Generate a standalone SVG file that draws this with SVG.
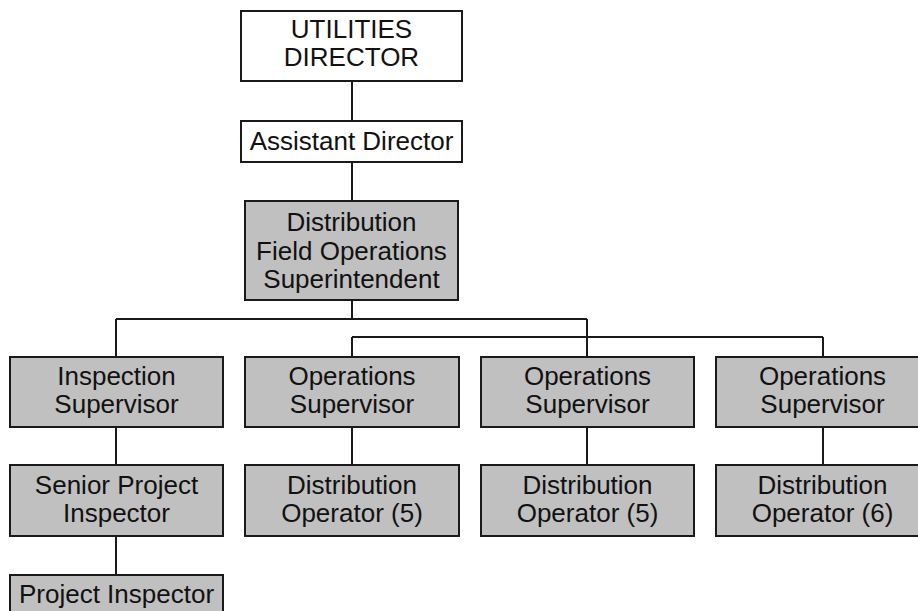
<svg xmlns="http://www.w3.org/2000/svg" width="918" height="611" viewBox="0 0 918 611">
<style>
.box{fill:#c0c0c0;stroke:#1a1a1a;stroke-width:2}
.wbox{fill:#ffffff;stroke:#1a1a1a;stroke-width:2}
.t{font-family:"Liberation Sans",Arial,sans-serif;font-size:26px;fill:#111;text-anchor:middle}
.c{stroke:#1a1a1a;stroke-width:2;fill:none}
</style>
<rect width="918" height="611" fill="#ffffff"/>
<g id="connectors">
<path class="c" d="M352 81V121M352 162V201M352 300V319M116 319H587M116 319V357M587 319V357M352 337H823M352 337V357M823 337V357M116 427V465M116 536V575M352 427V465M587 427V465M823 427V465"/>
</g>
<g id="utilities-director">
<rect class="wbox" x="241" y="11" width="221" height="70"/>
<text class="t" x="351.5" y="38">UTILITIES</text>
<text class="t" x="351.5" y="66">DIRECTOR</text>
</g>
<g id="assistant-director">
<rect class="wbox" x="241" y="121" width="221" height="41"/>
<text class="t" x="351.5" y="150">Assistant Director</text>
</g>
<g id="superintendent">
<rect class="box" x="245" y="201" width="213" height="99"/>
<text class="t" x="351.5" y="231">Distribution</text>
<text class="t" x="351.5" y="259.5">Field Operations</text>
<text class="t" x="351.5" y="288">Superintendent</text>
</g>
<g id="inspection-supervisor">
<rect class="box" x="10" y="357" width="213" height="70"/>
<text class="t" x="116.5" y="385">Inspection</text>
<text class="t" x="116.5" y="412.5">Supervisor</text>
</g>
<g id="ops-supervisor-1">
<rect class="box" x="245" y="357" width="214" height="70"/>
<text class="t" x="352" y="385">Operations</text>
<text class="t" x="352" y="412.5">Supervisor</text>
</g>
<g id="ops-supervisor-2">
<rect class="box" x="481" y="357" width="213" height="70"/>
<text class="t" x="587.5" y="385">Operations</text>
<text class="t" x="587.5" y="412.5">Supervisor</text>
</g>
<g id="ops-supervisor-3">
<rect class="box" x="716" y="357" width="213" height="70"/>
<text class="t" x="822.5" y="385">Operations</text>
<text class="t" x="822.5" y="412.5">Supervisor</text>
</g>
<g id="senior-project-inspector">
<rect class="box" x="10" y="465" width="213" height="71"/>
<text class="t" x="116.5" y="494">Senior Project</text>
<text class="t" x="116.5" y="521.5">Inspector</text>
</g>
<g id="dist-operator-1">
<rect class="box" x="245" y="465" width="214" height="71"/>
<text class="t" x="352" y="494">Distribution</text>
<text class="t" x="352" y="521.5">Operator (5)</text>
</g>
<g id="dist-operator-2">
<rect class="box" x="481" y="465" width="213" height="71"/>
<text class="t" x="587.5" y="494">Distribution</text>
<text class="t" x="587.5" y="521.5">Operator (5)</text>
</g>
<g id="dist-operator-3">
<rect class="box" x="716" y="465" width="213" height="71"/>
<text class="t" x="822.5" y="494">Distribution</text>
<text class="t" x="822.5" y="521.5">Operator (6)</text>
</g>
<g id="project-inspector">
<rect class="box" x="10" y="575" width="213" height="50"/>
<text class="t" x="116.5" y="603">Project Inspector</text>
</g>
</svg>
